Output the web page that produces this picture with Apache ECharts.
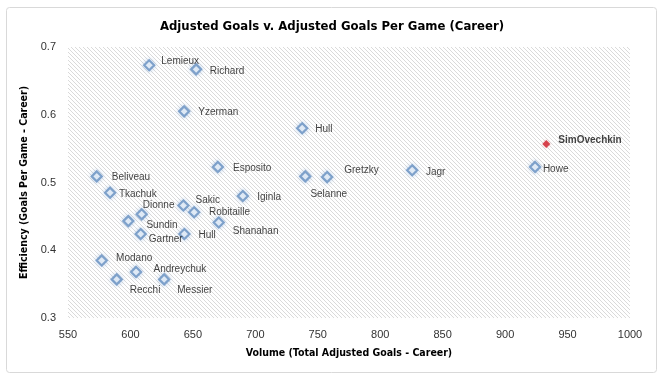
<!DOCTYPE html>
<html>
<head>
<meta charset="utf-8">
<script src="https://cdn.jsdelivr.net/npm/echarts@6/dist/echarts.min.js"></script>
<style>
html,body{margin:0;padding:0;background:#fff;}
#chart{width:664px;height:384px;}
</style>
</head>
<body>
<div id="chart"></div>
<script>
// ---- data ----
var players = ["Lemieux","Richard","Yzerman","Hull","Howe","Esposito","Beliveau","Selanne","Gretzky","Jagr","Tkachuk","Iginla","Sakic","Robitaille","Dionne","Sundin","Shanahan","Gartner","Hull","Modano","Andreychuk","Recchi","Messier"];
var adjustedGoals = [615, 652.6, 643, 737.5, 924, 670, 573, 740, 757.5, 825.6, 583.7, 690, 642.4, 651, 609, 598.3, 670.7, 608.2, 643.2, 577, 604.5, 589, 627];
var goalsPerGame = [0.673, 0.667, 0.605, 0.580, 0.523, 0.523, 0.509, 0.509, 0.508, 0.518, 0.485, 0.480, 0.466, 0.456, 0.453, 0.443, 0.441, 0.424, 0.424, 0.385, 0.368, 0.357, 0.357];
var highlightName = ["SimOvechkin"];
var highlightGoals = [933];
var highlightGPG = [0.557];
var xTicks = [550, 600, 650, 700, 750, 800, 850, 900, 950, 1000];
var yTicks = [0.3, 0.4, 0.5, 0.6, 0.7];

// label placement (style): [text start dx from marker centre, text centre dy]
var labelOffsets = [[11,-4],[12.6,1.7],[13,1.3],[12,1.3],[6.7,2.3],[14,1],[14,1],[4,18],[16,-7],[12.7,2.4],[7.7,1.6],[13.3,1],[11,-5.7],[13.7,0],[0,-8.6],[17,4],[13,8.4],[7,5],[13,1],[13.3,-2.6],[16.3,-3],[12,11],[12,10.7]];
var hlOffset = [[12,-4]];

var NARROW = '"DejaVu Sans Condensed","Liberation Sans Narrow",sans-serif';
var SANS = '"Liberation Sans",Arial,sans-serif';

// hatch pattern
var pc = document.createElement('canvas');
pc.width = 8; pc.height = 8;
var g = pc.getContext('2d');
g.fillStyle = '#ffffff'; g.fillRect(0,0,8,8);
g.fillStyle = '#dadada';
for (var yy = 0; yy < 8; yy++) for (var xx = 0; xx < 8; xx++) {
  if (((xx - yy) % 4 + 4) % 4 === 0) g.fillRect(xx, yy, 1, 1);
}

var R = 5, DIST = 5;
var mainData = players.map(function (n, i) {
  return {
    name: n,
    value: [adjustedGoals[i], goalsPerGame[i]],
    label: { offset: [labelOffsets[i][0] - R - DIST, labelOffsets[i][1]] }
  };
});
var hlData = highlightName.map(function (n, i) {
  return {
    name: n,
    value: [highlightGoals[i], highlightGPG[i]],
    label: { offset: [hlOffset[i][0] - 4 - DIST, hlOffset[i][1]] }
  };
});

var chart = echarts.init(document.getElementById('chart'), null, {renderer: 'canvas'});
chart.setOption({
  animation: false,
  backgroundColor: '#ffffff',
  graphic: [{
    type: 'rect', shape: {x: 6.5, y: 7.5, width: 650, height: 365, r: 3},
    style: {fill: 'none', stroke: '#d9d9d9', lineWidth: 1}, z: -1
  }],
  title: {
    text: 'Adjusted Goals v. Adjusted Goals Per Game (Career)',
    left: 'center', top: 15,
    textStyle: {fontFamily: NARROW, fontSize: 13, fontWeight: 'bold', color: '#000'}
  },
  grid: {
    left: 68, right: 34, top: 47, bottom: 66,
    show: true, borderWidth: 0,
    backgroundColor: {image: pc, repeat: 'repeat'}
  },
  xAxis: {
    type: 'value', min: xTicks[0], max: xTicks[xTicks.length - 1], interval: 50,
    name: 'Volume (Total Adjusted Goals - Career)',
    nameLocation: 'middle', nameGap: 30,
    nameTextStyle: {fontFamily: NARROW, fontSize: 10.5, fontWeight: 'bold', color: '#000'},
    axisLine: {show: false}, axisTick: {show: false}, splitLine: {show: false},
    axisLabel: {fontFamily: SANS, fontSize: 11, color: '#333', margin: 11,
      formatter: function (v) { return String(v); }}
  },
  yAxis: {
    type: 'value', min: yTicks[0], max: yTicks[yTicks.length - 1], interval: 0.1,
    name: 'Efficiency (Goals Per Game - Career)',
    nameLocation: 'middle', nameGap: 29, nameRotate: 90,
    nameTextStyle: {fontFamily: NARROW, fontSize: 10.5, fontWeight: 'bold', color: '#000'},
    axisLine: {show: false}, axisTick: {show: false}, splitLine: {show: false},
    axisLabel: {fontFamily: SANS, fontSize: 11, color: '#333', margin: 12,
      formatter: function (v) { return v.toFixed(1); }}
  },
  series: [{
    type: 'scatter',
    symbol: 'diamond', symbolSize: 10,
    itemStyle: {color: '#ffffff', borderColor: '#6690c0', borderWidth: 2.2,
      shadowBlur: 4, shadowColor: 'rgba(130,170,220,0.55)'},
    label: {show: true, position: 'right', distance: DIST, formatter: '{b}',
      fontFamily: SANS, fontSize: 10, color: '#111'},
    data: mainData
  }, {
    type: 'scatter',
    symbol: 'diamond', symbolSize: 8,
    itemStyle: {color: '#d01f2c', shadowBlur: 3, shadowColor: 'rgba(220,80,80,0.4)'},
    label: {show: true, position: 'right', distance: DIST, formatter: '{b}',
      fontFamily: SANS, fontSize: 10, fontWeight: 'bold', color: '#111'},
    data: hlData
  }]
});
</script>
</body>
</html>
